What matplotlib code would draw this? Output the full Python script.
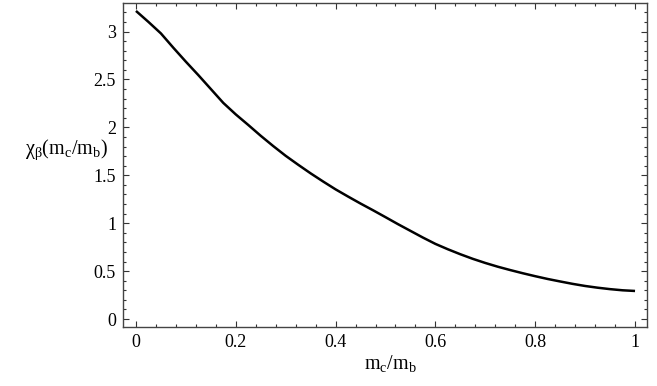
import numpy as np
import matplotlib
matplotlib.use("Agg")
import matplotlib.pyplot as plt
from matplotlib.ticker import MultipleLocator, FixedLocator

# values, every 0.025 in m_c/m_b
mass_ratio = np.round(np.arange(0, 1.0001, 0.025), 3)
chi_beta = [3.215, 3.10, 2.98, 2.83, 2.685, 2.545, 2.40, 2.255, 2.135, 2.025,
            1.912, 1.805, 1.703, 1.61, 1.52, 1.435, 1.353, 1.278, 1.205, 1.135,
            1.063, 0.99, 0.92, 0.85, 0.784, 0.728, 0.676, 0.628, 0.585, 0.546,
            0.511, 0.478, 0.447, 0.418, 0.392, 0.367, 0.345, 0.327, 0.312, 0.300,
            0.293]

x_ticks = [0, 0.2, 0.4, 0.6, 0.8, 1]
x_ticklabels = ["0", "0.2", "0.4", "0.6", "0.8", "1"]
y_ticks = [0, 0.5, 1, 1.5, 2, 2.5, 3]
y_ticklabels = ["0", "0.5", "1", "1.5", "2", "2.5", "3"]

plt.rcParams["font.family"] = ["Liberation Serif", "DejaVu Serif"]
plt.rcParams["mathtext.fontset"] = "custom"
plt.rcParams["mathtext.rm"] = "Liberation Serif"
plt.rcParams["mathtext.it"] = "Liberation Serif:italic"

fig = plt.figure(figsize=(6.57, 3.86), dpi=100)
ax = fig.add_axes([0.1872, 0.1536, 0.7976, 0.838])

ax.plot(mass_ratio, chi_beta, color="black", lw=1.8, solid_capstyle="butt")

ax.set_xlim(-0.026, 1.024)
ax.set_ylim(-0.08, 3.295)

ax.xaxis.set_major_locator(FixedLocator(x_ticks))
ax.set_xticklabels(x_ticklabels)
ax.xaxis.set_minor_locator(MultipleLocator(0.04))
ax.yaxis.set_major_locator(FixedLocator(y_ticks))
ax.set_yticklabels(y_ticklabels)
ax.yaxis.set_minor_locator(MultipleLocator(0.1))

ax.tick_params(which="both", direction="in", top=True, right=True,
               width=0.8, color="#333333", labelsize=13)
ax.tick_params(which="major", length=4, pad=5)
ax.tick_params(which="minor", length=2)
for s in ax.spines.values():
    s.set_linewidth(1.0)
    s.set_color("#444444")

fig.text(108 / 657, 1 - 150 / 386, r"$\mathrm{\chi_\beta(m_c/m_b)}$",
         ha="right", va="center", fontsize=14.5)
fig.text(390 / 657, 1 - 363 / 386, r"$\mathrm{m_c/m_b}$",
         ha="center", va="center", fontsize=14.5)

fig.savefig("out.png", dpi=100)
